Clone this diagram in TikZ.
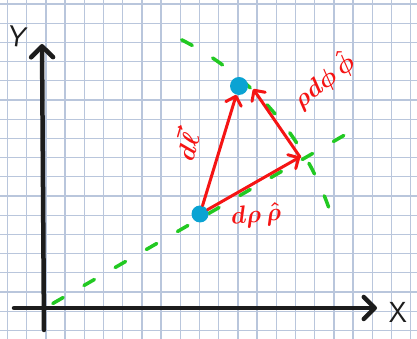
\documentclass[tikz,border=0pt]{standalone}
\usetikzlibrary{arrows.meta,calc}
\definecolor{gridblue}{HTML}{B9C6DC}
\definecolor{penred}{HTML}{F51414}
\definecolor{pengreen}{HTML}{22C922}
\definecolor{dotblue}{HTML}{0AA3D3}
\definecolor{ink}{HTML}{1C1C1C}

\begin{document}
\begin{tikzpicture}[x=1pt,y=1pt,
  axis/.style={ink,line width=4.5pt,line cap=round,-{Straight Barb[round,length=11pt,width=22pt]}},
  vecarrow/.style={penred,line width=3pt,line cap=round,-{Straight Barb[round,length=8pt,width=16pt]}},
  guide/.style={pengreen,line width=3.5pt,line cap=round,dash pattern=on 12pt off 24pt},
  dot/.style={circle,fill=dotblue,inner sep=0pt,minimum size=17pt},
  lbl/.style={text=penred,font=\boldmath\fontsize{31}{34}\selectfont},
  axlbl/.style={text=ink,font=\sffamily\fontsize{29}{30}\selectfont}]
 \useasboundingbox (0,0) rectangle (417,339);
 \fill[white] (0,0) rectangle (417,339);
 % graph paper
 \foreach \i in {0,...,21}
   \draw[gridblue,line width=1.3pt] (7.5+19.2*\i,0) -- (7.5+19.2*\i,339);
 \foreach \j in {0,...,17}
   \draw[gridblue,line width=1.3pt] (0,335-19.2*\j) -- (417,335-19.2*\j);
 \coordinate (O) at (45,31);
 % radial line and circle of constant rho
 \draw[guide] ($(O)+(30:9)$) -- ($(O)+(30:346)$);
 \draw[guide] ($(O)+(63:301)$) arc[start angle=63,end angle=16,radius=301];
 % axes
 \coordinate (ybot) at (44,9);
 \coordinate (ytop) at (42,295);
 \coordinate (xleft) at (14,31);
 \coordinate (xright) at (377,31);
 \draw[axis] (ybot) -- (ytop);
 \draw[axis] (xleft) -- (xright);
 \node[axlbl,rotate=-8] (ylab) at (18,302) {Y};
 \node[axlbl] (xlab) at (398,27) {X};
 % points
 \node[dot] (src) at (200,125) {};
 \node[dot,minimum size=18pt] (dst) at (239,253) {};
 \coordinate (corner) at (300,182);
 \draw[vecarrow] (src) -- (dst);
 \draw[vecarrow] (src) -- (corner);
 \draw[vecarrow] (corner) -- ([shift={(5pt,-3pt)}]dst.east);
 \node[lbl,rotate=74] (dllab) at (185,193) {$d\vec{\ell}$};
 \node[lbl,rotate=6] (drlab) at (256,123) {$d\rho\,\hat{\rho}$};
 \node[lbl,rotate=38] (dplab) at (323,259) {$\rho d\phi\,\hat{\phi}$};
\end{tikzpicture}
\end{document}
